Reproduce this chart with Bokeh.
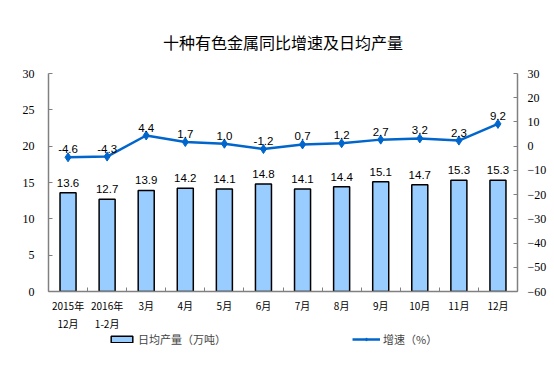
from bokeh.plotting import figure
from bokeh.layouts import column
from bokeh.models import Range1d, LinearAxis, FixedTicker, Legend, LegendItem, ColumnDataSource
from bokeh.core.properties import value
from bokeh.embed import file_html
from bokeh.resources import INLINE

categories = ["2015年\n12月", "2016年\n1-2月", "3月", "4月", "5月", "6月", "7月", "8月", "9月", "10月", "11月", "12月"]
daily_output = [13.6, 12.7, 13.9, 14.2, 14.1, 14.8, 14.1, 14.4, 15.1, 14.7, 15.3, 15.3]
growth_rate = [-4.6, -4.3, 4.4, 1.7, 1.0, -1.2, 0.7, 1.2, 2.7, 3.2, 2.3, 9.2]
left_ticks = [0, 5, 10, 15, 20, 25, 30]
right_ticks = [-60, -50, -40, -30, -20, -10, 0, 10, 20, 30]
title_text = "十种有色金属同比增速及日均产量"
bar_name = "日均产量（万吨）"
line_name = "增速（%）"

BAR_FILL = "#99CCFF"
LINE_COLOR = "#0066CC"

xs = list(range(1, len(categories) + 1))
src = ColumnDataSource(dict(
    x=xs, bar=daily_output, rate=growth_rate,
    bar_lbl=[f"{v:.1f}" for v in daily_output],
    rate_lbl=[f"{v:.1f}" for v in growth_rate],
))

p = figure(width=554, height=333, output_backend="svg", toolbar_location=None,
           x_range=Range1d(0.5, len(categories) + 0.5), y_range=Range1d(0, 30),
           min_border_left=48, min_border_right=37, min_border_top=73, min_border_bottom=41)
p.extra_y_ranges = {"rate": Range1d(-60, 30)}
p.outline_line_color = None
p.xgrid.visible = False
p.ygrid.visible = False

p.title.text = title_text
p.title.align = "center"
p.title.text_font = "Noto Sans CJK SC"
p.title.text_font_size = "16px"
p.title.text_font_style = "normal"
p.title.text_color = "black"
p.title.standoff = 40

axis_color = "#808080"

xa = p.xaxis[0]
xa.ticker = FixedTicker(ticks=xs, minor_ticks=[x - 0.5 for x in xs] + [len(xs) + 0.5])
xa.major_label_overrides = {x: c for x, c in zip(xs, categories)}
xa.major_tick_in = 0
xa.major_tick_out = 0
xa.minor_tick_in = 4
xa.minor_tick_out = 0
xa.minor_tick_line_color = axis_color
xa.axis_line_color = axis_color
xa.axis_line_width = 1.5
xa.major_label_text_font = "Noto Sans CJK SC"
xa.major_label_text_font_size = "10px"
xa.major_label_text_color = "black"
xa.major_label_standoff = 6

ya = p.yaxis[0]
ya.ticker = FixedTicker(ticks=left_ticks)
ya.major_tick_in = 4
ya.major_tick_out = 0
ya.minor_tick_line_color = None
ya.axis_line_color = axis_color
ya.axis_line_width = 1.5
ya.major_tick_line_color = axis_color
ya.major_label_text_font = "Liberation Serif"
ya.major_label_text_font_size = "12px"
ya.major_label_text_color = "black"
ya.major_label_standoff = 14

ra = LinearAxis(y_range_name="rate", ticker=FixedTicker(ticks=right_ticks))
ra.major_tick_in = 4
ra.major_tick_out = 0
ra.minor_tick_line_color = None
ra.axis_line_color = axis_color
ra.axis_line_width = 1.5
ra.major_tick_line_color = axis_color
ra.major_label_text_font = "Liberation Serif"
ra.major_label_text_font_size = "12px"
ra.major_label_text_color = "black"
ra.major_label_standoff = 10
p.add_layout(ra, "right")

p.vbar(x="x", top="bar", width=0.41, source=src, fill_color=BAR_FILL,
       line_color="black", line_width=1.5)
p.line(x="x", y="rate", source=src, y_range_name="rate", line_color=LINE_COLOR, line_width=2.5)
p.scatter(x="x", y="rate", source=src, y_range_name="rate", marker="diamond", size=9,
          fill_color=LINE_COLOR, line_color=LINE_COLOR)

p.text(x="x", y="bar", text="bar_lbl", source=src, text_align="center", text_baseline="bottom",
       y_offset=-6, text_font=value("Liberation Sans"), text_font_size="11.5px", text_color="black")
p.text(x="x", y="rate", text="rate_lbl", source=src, y_range_name="rate", text_align="center",
       text_baseline="bottom", y_offset=-4, text_font=value("Liberation Sans"), text_font_size="11.5px",
       text_color="black")

# legend strip: a second figure whose (hidden) renderers only supply the legend swatches
lg = figure(width=554, height=36, output_backend="svg", toolbar_location=None,
            x_range=Range1d(0, 1), y_range=Range1d(0, 1),
            x_axis_location=None, y_axis_location=None,
            min_border_left=0, min_border_right=0, min_border_top=0, min_border_bottom=0)
lg.grid.visible = False
lg.outline_line_color = None
r_bar = lg.vbar(x="x", top="bar", width=0.4, source=src, fill_color=BAR_FILL,
                line_color="black", line_width=1.5, visible=False)
r_line = lg.line(x="x", y="rate", source=src, line_color=LINE_COLOR, line_width=2.5, visible=False)
r_mk = lg.scatter(x="x", y="rate", source=src, marker="diamond", size=9,
                  fill_color=LINE_COLOR, line_color=LINE_COLOR, visible=False)

common = dict(label_standoff=3, padding=0, margin=0, border_line_color=None,
              background_fill_alpha=0, label_text_font="Noto Sans CJK SC",
              label_text_font_size="11px", label_height=12, glyph_height=8,
              inactive_fill_alpha=0, click_policy="none")
leg1 = Legend(items=[LegendItem(label=bar_name, renderers=[r_bar])], location=(60, 22),
              glyph_width=27, **common)
leg2 = Legend(items=[LegendItem(label=line_name, renderers=[r_line, r_mk])], location=(304, 22),
              glyph_width=28, **common)
lg.add_layout(leg1, "center")
lg.add_layout(leg2, "center")

layout = column(p, lg, spacing=0)
open("out.html", "w").write(file_html(layout, INLINE))
